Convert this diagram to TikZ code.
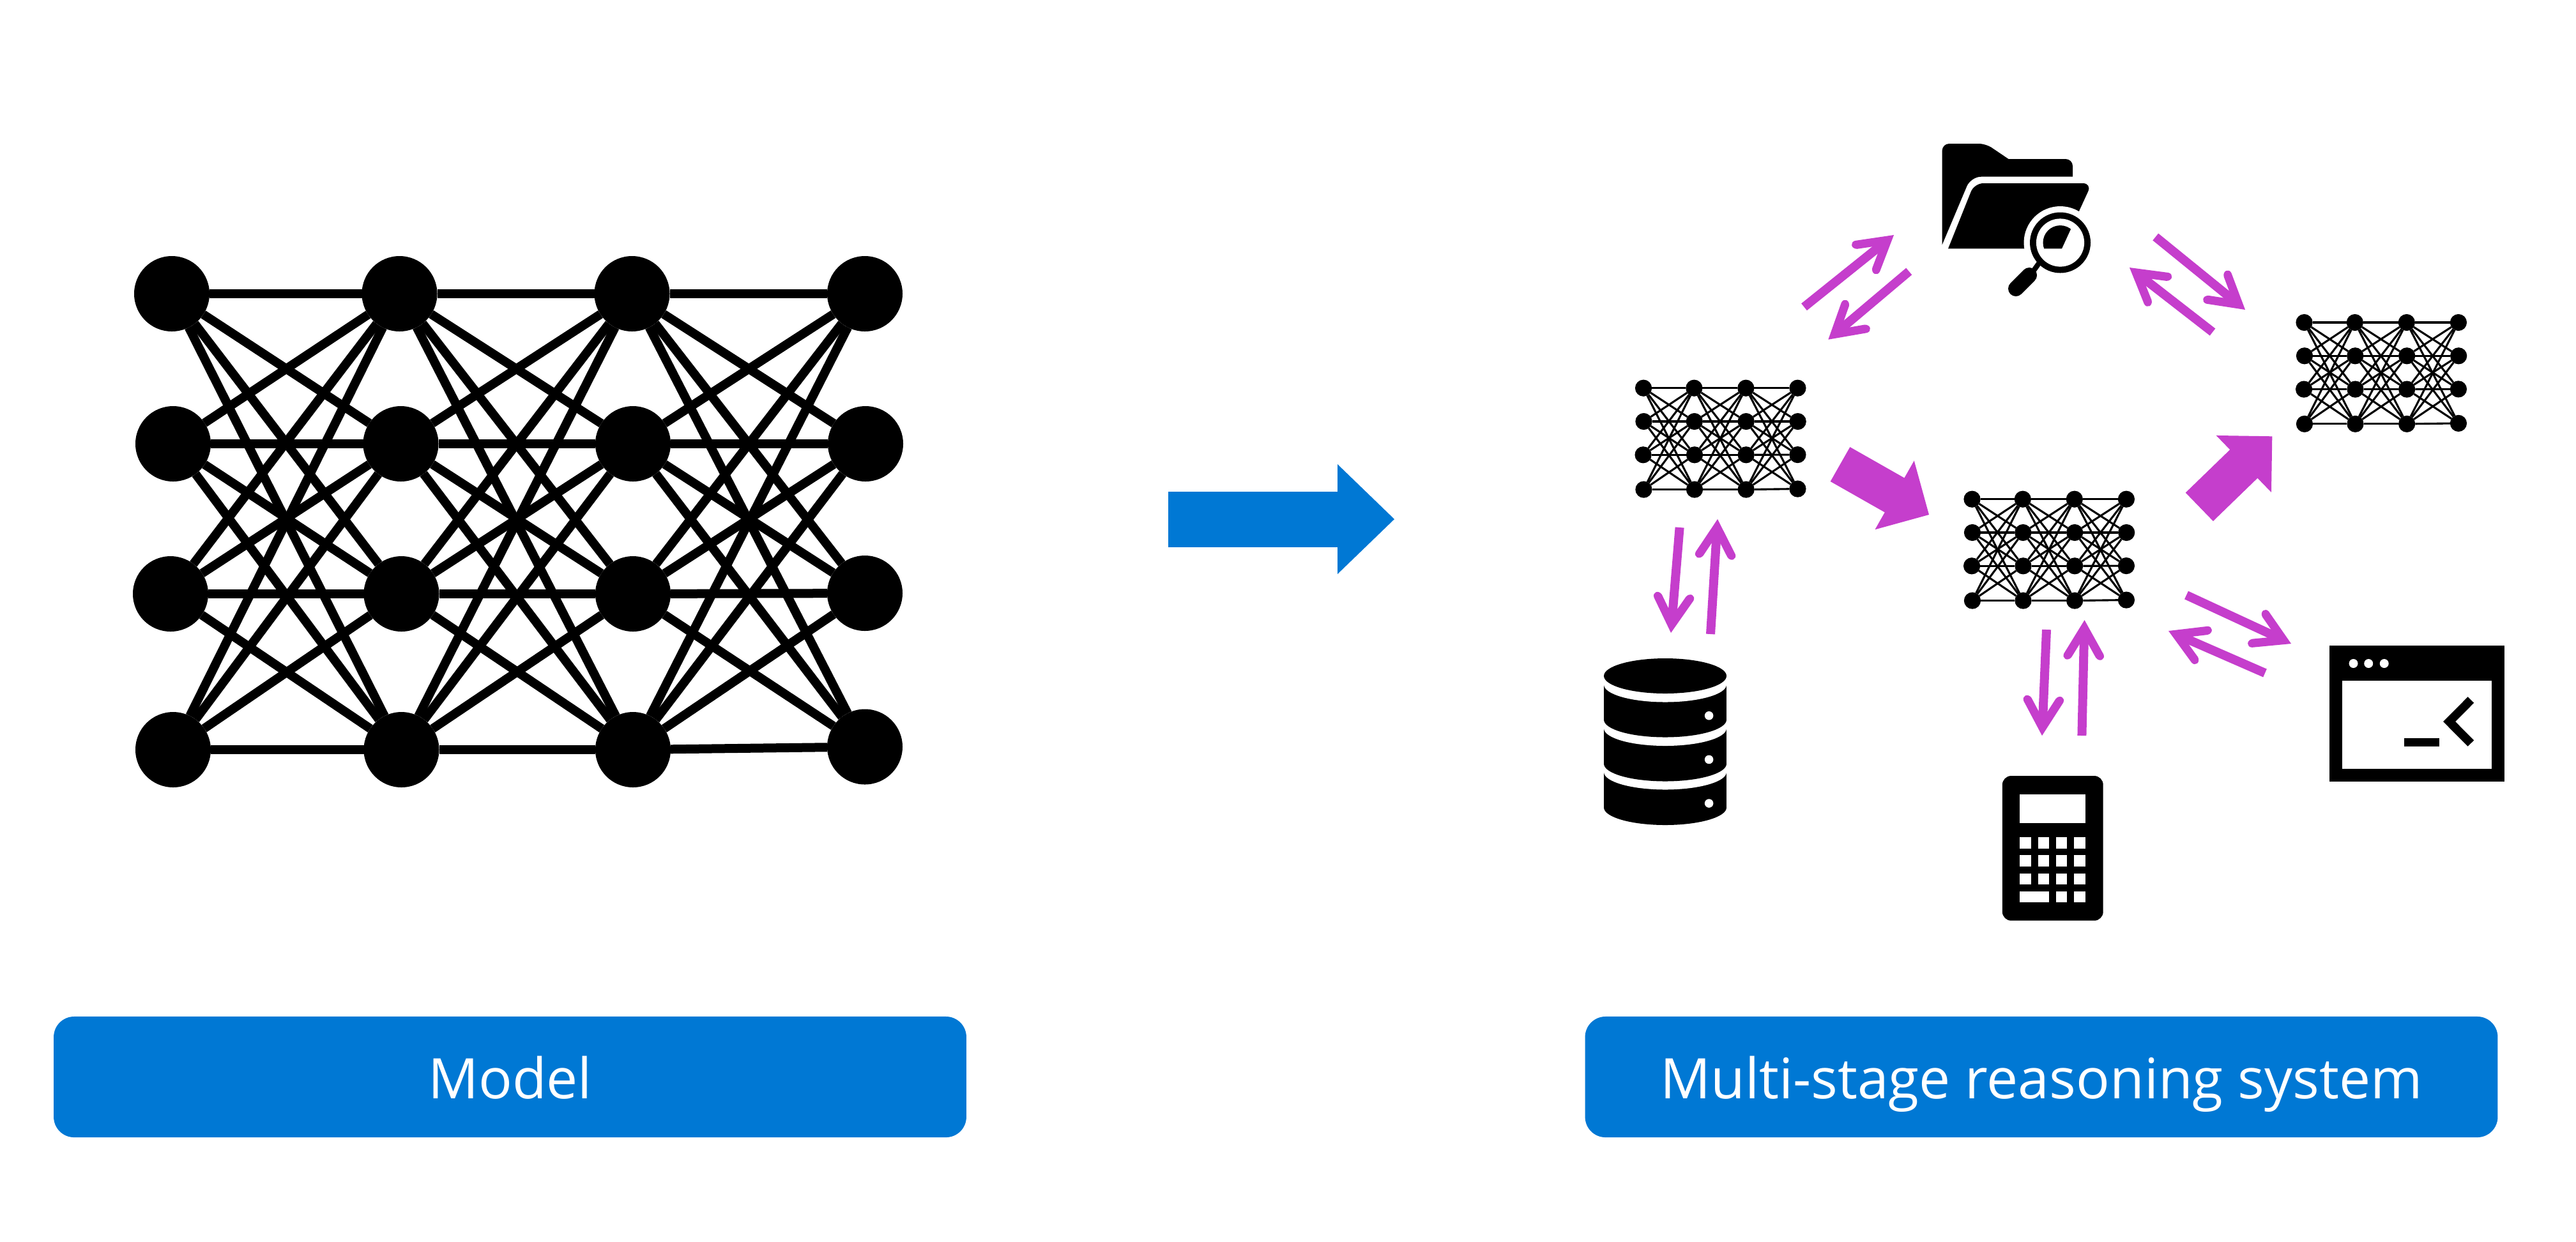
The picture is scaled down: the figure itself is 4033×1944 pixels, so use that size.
\documentclass[tikz,border=0pt]{standalone}
\usepackage{fontspec}
\setmainfont{Open Sans}
\definecolor{mag}{HTML}{C53ECC}
\definecolor{msblue}{HTML}{0078D4}
\tikzset{
  neuron/.style={circle,fill=black,inner sep=0pt,outer sep=0pt},
  labelbox/.style={rounded corners=0.32cm,fill=msblue,text=white,inner sep=0pt,minimum width=14.28cm,minimum height=1.89cm,text height=0.67cm,text depth=0cm,font=\fontsize{24.9pt}{30pt}\selectfont},
  arrowstem/.style={draw=mag,line width=0.14cm,shorten >=0.35cm}
}
\newcommand\neuralnet[4]{% prefix, origin x, origin y, scale
  \foreach \c/\r/\X/\Y in {1/1/269/460,1/2/271/695,1/3/267/930,1/4/271/1174,
     2/1/625.5/460,2/2/627.5/695,2/3/628.5/930,2/4/628.5/1174,
     3/1/989.5/460,3/2/991/695,3/3/991/930,3/4/991/1174,
     4/1/1354/460,4/2/1355/695,4/3/1354/929,4/4/1354/1169.5}{
    \pgfmathsetmacro\px{#2+#4*(\X-269)}
    \pgfmathsetmacro\py{#3+#4*(\Y-460)}
    \node[neuron,minimum size={2*59*#4*0.01cm}] (#1-\c-\r) at (\px,\py) {};
  }
  \foreach \c/\d in {1/2,2/3,3/4}{
    \foreach \r in {1,2,3,4}{
      \foreach \q in {1,2,3,4}{
        \draw[line width={14*#4*0.01cm}] (#1-\c-\r) -- (#1-\d-\q);
      }
    }
  }
}
\newcommand\thinarrow[2]{%
  \draw[arrowstem] (#1) -- (#2);
  \pgfmathanglebetweenpoints{\pgfpointanchor{#2}{center}}{\pgfpointanchor{#1}{center}}%
  \let\arrang\pgfmathresult
  \fill[mag,shift={(#2)},rotate=\arrang,x=0.01cm,y=0.01cm]
    (0,0) -- (53,31) .. controls (61,34.5) and (66,25) .. (58.5,19) -- (38,7) -- (38,-7)
    -- (58.5,-19) .. controls (66,-25) and (61,-34.5) .. (53,-31) -- cycle;
}
\newcommand\blockarrow[6]{% colour, from, to, stem width, head length, head half width
  \draw[#1,line width={#4*0.01cm},shorten >={(#5-2)*0.01cm}] (#2) -- (#3);
  \pgfmathanglebetweenpoints{\pgfpointanchor{#3}{center}}{\pgfpointanchor{#2}{center}}%
  \let\arrang\pgfmathresult
  \fill[#1,shift={(#3)},rotate=\arrang,x=0.01cm,y=0.01cm] (0,0) -- (#5,#6) -- (#5,-#6) -- cycle;
}
\newcommand\folderfront{(3050,389.3) [rounded corners=0.14cm] -- (3091,287) -- (3275,287) [sharp corners] -- (3228,389.3) -- cycle}
\begin{document}
\begin{tikzpicture}[x=0.01cm,y=-0.01cm]
\useasboundingbox[fill=white] (0,0) rectangle (4033,1944);
% networks
\neuralnet{big}{269}{460}{1}
\neuralnet{neta}{2573}{607.7}{0.2225}
\neuralnet{netb}{3087.5}{781.7}{0.2225}
\neuralnet{netc}{3607.5}{505}{0.2225}
% labels
\node[labelbox] (model) at (798.5,1686.5) {Model};
\node[labelbox] (system) at (3196,1686.5) {Multi-stage reasoning system};
% blue arrow
\coordinate (blueS) at (1829,813);
\coordinate (blueT) at (2183,813);
\blockarrow{msblue}{blueS}{blueT}{87}{89}{86}
% bold arrows
\coordinate (fatAs) at (2881,727);
\coordinate (fatAt) at (3020,806);
\blockarrow{mag}{fatAs}{fatAt}{62}{62}{62}
\coordinate (fatBs) at (3443.3,793.8);
\coordinate (fatBt) at (3557.3,683.3);
\blockarrow{mag}{fatBs}{fatBt}{62}{62}{62}
% thin arrows
\coordinate (aS) at (3374.7,371);  \coordinate (aT) at (3515,485);
\coordinate (bS) at (3464,520);    \coordinate (bT) at (3334,419);
\coordinate (cS) at (2824.5,480.7);\coordinate (cT) at (2965,368);
\coordinate (dS) at (2988.7,425);  \coordinate (dT) at (2862.3,531.7);
\coordinate (eS) at (2629.6,826);  \coordinate (eT) at (2616,991);
\coordinate (fS) at (2678,993);    \coordinate (fT) at (2689,813);
\coordinate (gS) at (3204,986);    \coordinate (gT) at (3197,1152);
\coordinate (hS) at (3259.4,1152); \coordinate (hT) at (3263.5,971);
\coordinate (iS) at (3423,932);    \coordinate (iT) at (3587,1008);
\coordinate (jS) at (3546,1054);   \coordinate (jT) at (3395,988);
\thinarrow{aS}{aT}\thinarrow{bS}{bT}\thinarrow{cS}{cT}\thinarrow{dS}{dT}
\thinarrow{eS}{eT}\thinarrow{fS}{fT}\thinarrow{gS}{gT}\thinarrow{hS}{hT}
\thinarrow{iS}{iT}\thinarrow{jS}{jT}
% folder with magnifier
\fill (3040.6,383.3) [rounded corners=0.11cm] -- (3040.6,225) -- (3109,225) [sharp corners] -- (3144.5,249)
  [rounded corners=0.11cm] -- (3245,249) [sharp corners] -- (3245,276.7) [rounded corners=0.16cm] -- (3085.6,276.7) [sharp corners] -- cycle;
\fill \folderfront;
\fill[white] (3225.5,380) circle[radius=57];
\draw[line width=0.08cm] (3193,411) -- (3183,425);
\draw[line width=0.24cm,line cap=round] (3177,431) -- (3156,452);
\fill (3225.5,380) circle[radius=47.5];
\fill[white] (3225.5,380) circle[radius=37.6];
\begin{scope}
  \clip (3225.5,380) circle[radius=27];
  \fill \folderfront;
\end{scope}
% database
\fill (2511,1209) rectangle (2703,1264.5);
\fill (2607,1264.5) ellipse[x radius=96,y radius=27.5];
\fill[white] (2607,1209) ellipse[x radius=96,y radius=27.5];
\fill (2511,1140.5) rectangle (2703,1196);
\fill (2607,1196) ellipse[x radius=96,y radius=27.5];
\fill[white] (2607,1140.5) ellipse[x radius=96,y radius=27.5];
\fill (2511,1072) rectangle (2703,1127);
\fill (2607,1127) ellipse[x radius=96,y radius=27.5];
\fill[white] (2607,1072) ellipse[x radius=96,y radius=27.5];
\fill (2607,1058.5) ellipse[x radius=96,y radius=27.5];
\foreach \dy in {1120.7,1189.4,1258}{\fill[white] (2675.6,\dy) circle[radius=6.8];}
% calculator
\fill[rounded corners=0.14cm] (3134.8,1215) rectangle (3292.7,1441.7);
\fill[white] (3162.4,1243.7) rectangle (3264.6,1289);
\foreach \ya/\yb in {1311.3/1328.7,1339.3/1356.7,1367.7/1385}{
  \foreach \xa/\xb in {3162.4/3180.2,3191/3207.8,3219.2/3235.8,3247.4/3264.6}{
    \fill[white] (\xa,\ya) rectangle (\xb,\yb);
  }
}
\foreach \xa/\xb in {3162.4/3207.8,3219.2/3235.8,3247.4/3264.6}{
  \fill[white] (\xa,1396) rectangle (\xb,1413.3);
}
% terminal window
\fill (3646.6,1011.3) rectangle (3921.4,1224.3);
\fill[white] (3666.9,1066.3) rectangle (3901,1204);
\foreach \dx in {3684.5,3708.2,3732.7}{\fill[white] (\dx,1039) circle[radius=7];}
\fill (3763.7,1156) rectangle (3819,1169.3);
\fill (3863.6,1091.3) -- (3873.2,1100.7) -- (3844,1130) -- (3873.2,1159.3) -- (3863.6,1168.7) -- (3825,1130) -- cycle;
\end{tikzpicture}
\end{document}
